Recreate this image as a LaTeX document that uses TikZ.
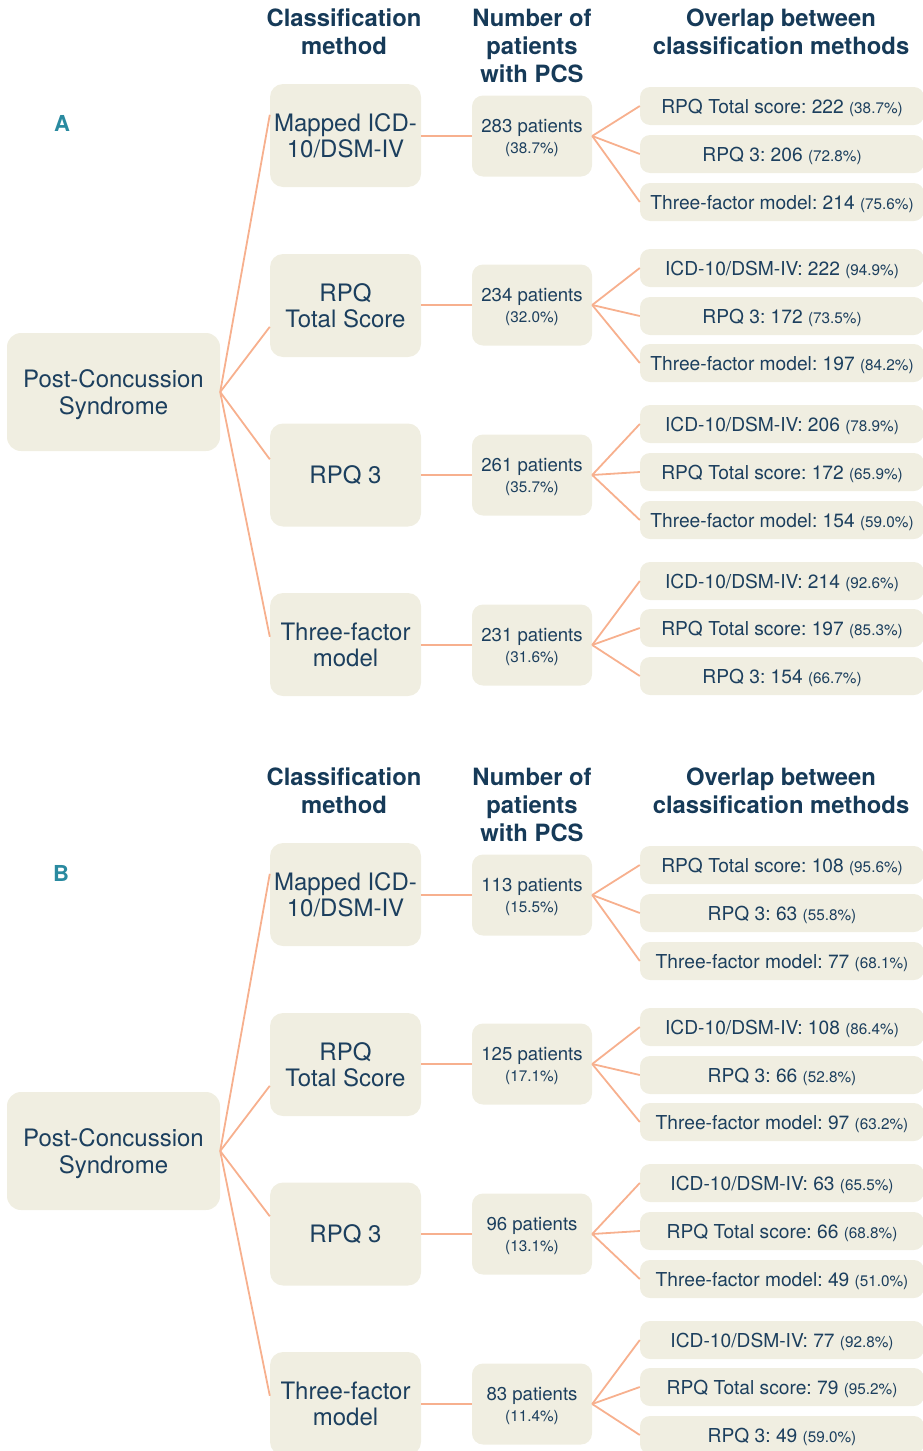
\documentclass[tikz,border=0pt]{standalone}
\usepackage{fontspec}
\setmainfont{TeX Gyre Heros}
\usetikzlibrary{calc}
\frenchspacing

\definecolor{boxfill}{HTML}{F0EEE1}
\definecolor{inkblue}{HTML}{1C3F5E}
\definecolor{headblue}{HTML}{163A58}
\definecolor{panelteal}{HTML}{2A8AA0}
\definecolor{linkc}{HTML}{F7B08E}

\newcommand\pcnt[1]{{\fontsize{15.3}{18}\selectfont(#1)}}

\tikzset{
  base/.style={fill=boxfill, draw=none, text=inkblue, align=center, inner sep=0pt, text depth=0pt},
  rootbox/.style={base, rounded corners=14pt, minimum width=213pt, minimum height=118pt,
    font=\fontsize{24}{27}\selectfont},
  methodbox/.style={base, rounded corners=13pt, minimum width=151pt, minimum height=103pt,
    font=\fontsize{24}{26.5}\selectfont},
  countbox/.style={base, rounded corners=11pt, minimum width=120pt, minimum height=81pt,
    font=\fontsize{18.6}{21}\selectfont},
  overlapbox/.style={base, rounded corners=10pt, minimum width=284pt, minimum height=38pt,
    font=\fontsize{19.2}{21}\selectfont},
  header/.style={text=headblue, align=center, inner sep=0pt,
    font=\fontsize{23.8}{28}\selectfont\bfseries},
  panellabel/.style={text=panelteal, inner sep=0pt, font=\fontsize{22}{24}\selectfont\bfseries},
  link/.style={draw=linkc, line width=1.8pt},
}

\begin{document}
\begin{tikzpicture}[x=1pt, y=-1pt]
\useasboundingbox (0,0) rectangle (923,1451);

% ---------------- Panel A ----------------
\node[header] (ahA) at (344,32) {Classification\\method};
\node[header] (ahB) at (532,46) {Number of\\patients\\with PCS};
\node[header] (ahC) at (781,32) {Overlap between\\classification methods};
\node[panellabel] (aL) at (62,123) {A};

\node[rootbox] (ar) at (113.5,392) {Post-Concussion\\Syndrome};

\node[methodbox] (am1) at (345.5,135.5) {Mapped ICD-\\10/DSM-IV};
\node[methodbox] (am2) at (345.5,305.5) {RPQ\\Total Score};
\node[methodbox] (am3) at (345.5,475) {RPQ 3};
\node[methodbox] (am4) at (345.5,644.5) {Three-factor\\model};

\node[countbox] (ac1) at (532,136) {283 patients\\\pcnt{38.7\%}};
\node[countbox] (ac2) at (532,305) {234 patients\\\pcnt{32.0\%}};
\node[countbox] (ac3) at (532,475) {261 patients\\\pcnt{35.7\%}};
\node[countbox] (ac4) at (532,645) {231 patients\\\pcnt{31.6\%}};

\node[overlapbox] (ao11) at (782,106) {RPQ Total score: 222 \pcnt{38.7\%}};
\node[overlapbox] (ao12) at (782,154) {RPQ 3: 206 \pcnt{72.8\%}};
\node[overlapbox] (ao13) at (782,202) {Three-factor model: 214 \pcnt{75.6\%}};

\node[overlapbox] (ao21) at (782,268) {ICD-10/DSM-IV: 222 \pcnt{94.9\%}};
\node[overlapbox] (ao22) at (782,316) {RPQ 3: 172 \pcnt{73.5\%}};
\node[overlapbox] (ao23) at (782,363) {Three-factor model: 197 \pcnt{84.2\%}};

\node[overlapbox] (ao31) at (782,424) {ICD-10/DSM-IV: 206 \pcnt{78.9\%}};
\node[overlapbox] (ao32) at (782,472) {RPQ Total score: 172 \pcnt{65.9\%}};
\node[overlapbox] (ao33) at (782,520) {Three-factor model: 154 \pcnt{59.0\%}};

\node[overlapbox] (ao41) at (782,581) {ICD-10/DSM-IV: 214 \pcnt{92.6\%}};
\node[overlapbox] (ao42) at (782,628) {RPQ Total score: 197 \pcnt{85.3\%}};
\node[overlapbox] (ao43) at (782,676) {RPQ 3: 154 \pcnt{66.7\%}};

% root to methods
\draw[link] (ar.east) -- ($(am1.north west)+(0,31)$);
\draw[link] (ar.east) -- ($(am2.north west)+(0,73)$);
\draw[link] (ar.east) -- ($(am3.north west)+(0,36)$);
\draw[link] (ar.east) -- ($(am4.north west)+(0,44)$);
% methods to counts, counts to overlaps
\foreach \i in {1,2,3,4}{
  \draw[link] (am\i.east |- ac\i.west) -- (ac\i.west);
  \foreach \j in {1,2,3}{
    \draw[link] (ac\i.east) -- (ao\i\j.west);
  }
}

% ---------------- Panel B ----------------
\node[header] (bhA) at (344,791) {Classification\\method};
\node[header] (bhB) at (532,805) {Number of\\patients\\with PCS};
\node[header] (bhC) at (781,791) {Overlap between\\classification methods};
\node[panellabel] (bL) at (61,873) {B};

\node[rootbox] (br) at (113.5,1151) {Post-Concussion\\Syndrome};

\node[methodbox] (bm1) at (345.5,894.5) {Mapped ICD-\\10/DSM-IV};
\node[methodbox] (bm2) at (345.5,1064.5) {RPQ\\Total Score};
\node[methodbox] (bm3) at (345.5,1234) {RPQ 3};
\node[methodbox] (bm4) at (345.5,1403.5) {Three-factor\\model};

\node[countbox] (bc1) at (532,895) {113 patients\\\pcnt{15.5\%}};
\node[countbox] (bc2) at (532,1064) {125 patients\\\pcnt{17.1\%}};
\node[countbox] (bc3) at (532,1234) {96 patients\\\pcnt{13.1\%}};
\node[countbox] (bc4) at (532,1404) {83 patients\\\pcnt{11.4\%}};

\node[overlapbox] (bo11) at (782,865) {RPQ Total score: 108 \pcnt{95.6\%}};
\node[overlapbox] (bo12) at (782,913) {RPQ 3: 63 \pcnt{55.8\%}};
\node[overlapbox] (bo13) at (782,961) {Three-factor model: 77 \pcnt{68.1\%}};

\node[overlapbox] (bo21) at (782,1027) {ICD-10/DSM-IV: 108 \pcnt{86.4\%}};
\node[overlapbox] (bo22) at (782,1075) {RPQ 3: 66 \pcnt{52.8\%}};
\node[overlapbox] (bo23) at (782,1122) {Three-factor model: 97 \pcnt{63.2\%}};

\node[overlapbox] (bo31) at (782,1183) {ICD-10/DSM-IV: 63 \pcnt{65.5\%}};
\node[overlapbox] (bo32) at (782,1231) {RPQ Total score: 66 \pcnt{68.8\%}};
\node[overlapbox] (bo33) at (782,1279) {Three-factor model: 49 \pcnt{51.0\%}};

\node[overlapbox] (bo41) at (782,1340) {ICD-10/DSM-IV: 77 \pcnt{92.8\%}};
\node[overlapbox] (bo42) at (782,1387) {RPQ Total score: 79 \pcnt{95.2\%}};
\node[overlapbox] (bo43) at (782,1435) {RPQ 3: 49 \pcnt{59.0\%}};

\draw[link] (br.east) -- ($(bm1.north west)+(0,31)$);
\draw[link] (br.east) -- ($(bm2.north west)+(0,73)$);
\draw[link] (br.east) -- ($(bm3.north west)+(0,34)$);
\draw[link] (br.east) -- ($(bm4.north west)+(0,44)$);
\foreach \i in {1,2,3,4}{
  \draw[link] (bm\i.east |- bc\i.west) -- (bc\i.west);
  \foreach \j in {1,2,3}{
    \draw[link] (bc\i.east) -- (bo\i\j.west);
  }
}
\end{tikzpicture}
\end{document}
